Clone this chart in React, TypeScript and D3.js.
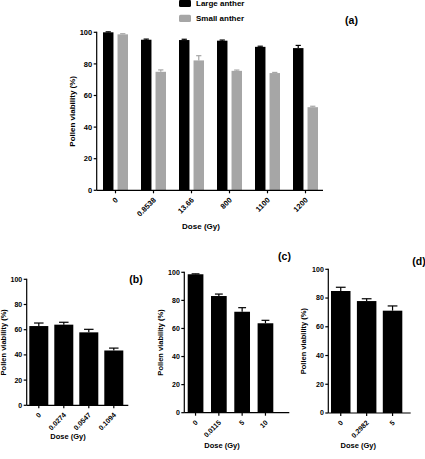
import React from 'react';
import * as d3 from 'd3';

// panel (a): two anther sizes
const doseA = ['0', '0.8538', '13.66', '800', '1100', '1200'];
const largeAnther = [100, 95.3, 95.1, 94.7, 90.8, 90.0];
const largeAntherErr = [0.3, 0.4, 0.5, 0.4, 0.4, 1.7];
const smallAnther = [98.7, 75.0, 82.2, 75.6, 74.2, 52.6];
const smallAntherErr = [0.4, 1.2, 3.0, 0.5, 0.4, 0.6];
const seriesNames = ['Large anther', 'Small anther'];

// panels (b), (c), (d)
const doseB = ['0', '0.0274', '0.0547', '0.1094'];
const viabilityB = [62.9, 64.0, 57.9, 43.5];
const viabilityBErr = [2.4, 1.9, 2.4, 1.9];

const doseC = ['0', '0.0115', '5', '10'];
const viabilityC = [98.6, 83.1, 71.9, 63.7];
const viabilityCErr = [0.3, 1.4, 2.9, 2.1];

const doseD = ['0', '0.2982', '5'];
const viabilityD = [84.9, 77.9, 71.2];
const viabilityDErr = [2.6, 1.6, 3.3];

const yTicks = [0, 20, 40, 60, 80, 100];

const FONT = '"Liberation Sans", Arial, sans-serif';
const GRAY = '#a6a6a6';

type Layout = {
    axisX: number; yTop: number; yBottom: number; xEnd: number;
    band: [number, number]; padIn: number; padOut: number;
    yLabelX: number; xLabelX: number; xLabelY: number;
    tag: string; tagX: number; tagY: number;
    tickFont: number; labelFont: number;
};

function Axes({ lay, x, y, cats }: { lay: Layout; x: d3.ScaleBand<string>; y: d3.ScaleLinear<number, number>; cats: string[] }) {
    return (
        <g fontFamily={FONT} fontWeight="bold" fill="#000">
            <line x1={lay.axisX} x2={lay.axisX} y1={lay.yTop - 0.6} y2={lay.yBottom} stroke="#000" strokeWidth={1.2} />
            <line x1={lay.axisX} x2={lay.xEnd} y1={lay.yBottom} y2={lay.yBottom} stroke="#000" strokeWidth={1.2} />
            {yTicks.map(t => (
                <g key={t}>
                    <line x1={lay.axisX - 3} x2={lay.axisX} y1={y(t)} y2={y(t)} stroke="#000" strokeWidth={1.2} />
                    <text x={lay.axisX - 4.5} y={y(t)} dy="0.35em" textAnchor="end" fontSize={lay.tickFont}>{t}</text>
                </g>
            ))}
            {cats.map(c => {
                const cx = (x(c) as number) + x.bandwidth() / 2;
                return (
                    <g key={c}>
                        <line x1={cx} x2={cx} y1={lay.yBottom} y2={lay.yBottom + 3} stroke="#000" strokeWidth={1.2} />
                        <text transform={`translate(${cx + 1},${lay.yBottom + 8.5}) rotate(-45)`} dy="0.35em"
                              textAnchor="end" fontSize={lay.tickFont}>{c}</text>
                    </g>
                );
            })}
            <text transform={`translate(${lay.yLabelX},${(lay.yTop + lay.yBottom) / 2}) rotate(-90)`} dy="0.35em"
                  textAnchor="middle" fontSize={lay.labelFont}>Pollen viability (%)</text>
            <text x={lay.xLabelX} y={lay.xLabelY} dy="0.35em" textAnchor="middle" fontSize={lay.labelFont}>Dose (Gy)</text>
            <text x={lay.tagX} y={lay.tagY} dy="0.35em" textAnchor="middle" fontSize={10.5}>{lay.tag}</text>
        </g>
    );
}

function Bar({ x, w, v, e, y, fill }: { x: number; w: number; v: number; e: number; y: d3.ScaleLinear<number, number>; fill: string }) {
    const cx = x + w / 2;
    const cap = w / 4;
    return (
        <g>
            <line x1={cx} x2={cx} y1={y(v)} y2={y(v + e)} stroke={fill} strokeWidth={1.2} />
            <line x1={cx - cap} x2={cx + cap} y1={y(v + e)} y2={y(v + e)} stroke={fill} strokeWidth={1.2} />
            <rect x={x} y={y(v)} width={w} height={y(0) - y(v)} fill={fill} />
        </g>
    );
}

function SinglePanel({ lay, cats, vals, errs }: { lay: Layout; cats: string[]; vals: number[]; errs: number[] }) {
    const x = d3.scaleBand<string>().domain(cats).range(lay.band).paddingInner(lay.padIn).paddingOuter(lay.padOut);
    const y = d3.scaleLinear().domain([0, 100]).range([lay.yBottom, lay.yTop]);
    return (
        <g>
            {cats.map((c, i) => (
                <Bar key={c} x={x(c) as number} w={x.bandwidth()} v={vals[i]} e={errs[i]} y={y} fill="#000" />
            ))}
            <Axes lay={lay} x={x} y={y} cats={cats} />
        </g>
    );
}

function GroupedPanel({ lay }: { lay: Layout }) {
    const x = d3.scaleBand<string>().domain(doseA).range(lay.band).paddingInner(lay.padIn).paddingOuter(lay.padOut);
    const sub = d3.scaleBand<string>().domain(seriesNames).range([0, x.bandwidth()]).paddingInner(0.28);
    const y = d3.scaleLinear().domain([0, 100]).range([lay.yBottom, lay.yTop]);
    const series = [
        { name: seriesNames[0], vals: largeAnther, errs: largeAntherErr, fill: '#000' },
        { name: seriesNames[1], vals: smallAnther, errs: smallAntherErr, fill: GRAY },
    ];
    return (
        <g>
            {doseA.map((c, i) => (
                <g key={c}>
                    {series.map(s => (
                        <Bar key={s.name} x={(x(c) as number) + (sub(s.name) as number)} w={sub.bandwidth()}
                             v={s.vals[i]} e={s.errs[i]} y={y} fill={s.fill} />
                    ))}
                </g>
            ))}
            <Axes lay={lay} x={x} y={y} cats={doseA} />
            <g fontFamily={FONT} fontWeight="bold" fontSize={8}>
                {series.map((s, i) => (
                    <g key={s.name} transform={`translate(179,${3.5 + i * 14.8})`}>
                        <rect x={0} y={-3.6} width={12} height={7.2} rx={1.5} fill={s.fill} />
                        <text x={17} y={0} dy="0.35em">{s.name}</text>
                    </g>
                ))}
            </g>
        </g>
    );
}

const layA: Layout = {
    axisX: 96.7, yTop: 32.3, yBottom: 190.3, xEnd: 323,
    band: [99.5, 321.5], padIn: 0.342, padOut: 0.092,
    yLabelX: 72, xLabelX: 201, xLabelY: 225.7,
    tag: '(a)', tagX: 351.5, tagY: 20, tickFont: 7.5, labelFont: 8,
};
const layB: Layout = {
    axisX: 26.7, yTop: 279.3, yBottom: 405.3, xEnd: 128.3,
    band: [26.8, 125.8], padIn: 0.24, padOut: 0.1,
    yLabelX: 3.5, xLabelX: 68, xLabelY: 436.2,
    tag: '(b)', tagX: 136, tagY: 279, tickFont: 7, labelFont: 7.5,
};
const layC: Layout = {
    axisX: 184.3, yTop: 272.3, yBottom: 412.7, xEnd: 289.3,
    band: [184.2, 276.8], padIn: 0.326, padOut: 0.15,
    yLabelX: 160.3, xLabelX: 222, xLabelY: 445.7,
    tag: '(c)', tagX: 284.5, tagY: 256.7, tickFont: 7, labelFont: 7.5,
};
const layD: Layout = {
    axisX: 328.3, yTop: 269.3, yBottom: 413, xEnd: 410.7,
    band: [328.3, 405], padIn: 0.247, padOut: 0.104,
    yLabelX: 303.7, xLabelX: 358.3, xLabelY: 445.7,
    tag: '(d)', tagX: 419, tagY: 261.7, tickFont: 7, labelFont: 7.5,
};

export default function App() {
    return (
        <svg width={425} height={459} style={{ position: 'absolute', left: 0, top: 0, background: '#fff' }}>
            <GroupedPanel lay={layA} />
            <SinglePanel lay={layB} cats={doseB} vals={viabilityB} errs={viabilityBErr} />
            <SinglePanel lay={layC} cats={doseC} vals={viabilityC} errs={viabilityCErr} />
            <SinglePanel lay={layD} cats={doseD} vals={viabilityD} errs={viabilityDErr} />
        </svg>
    );
}
